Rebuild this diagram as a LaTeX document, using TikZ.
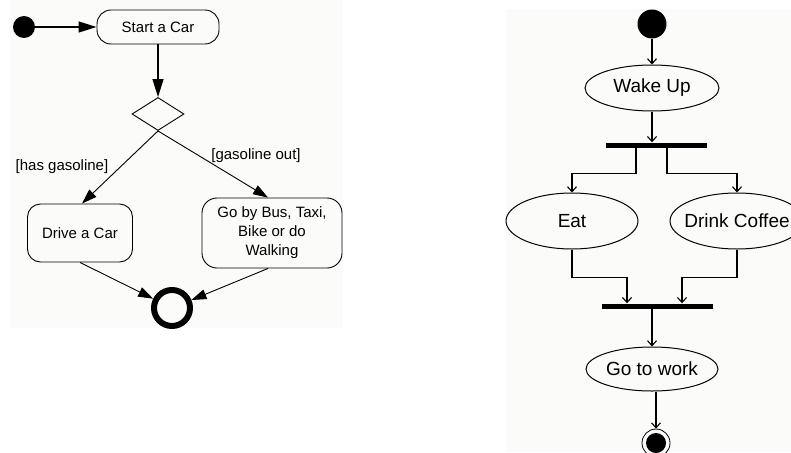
\documentclass[tikz,border=0pt]{standalone}
\usepackage{fontspec}
\setmainfont{Liberation Sans}
\usetikzlibrary{shapes.geometric,arrows.meta}
\definecolor{bgc}{HTML}{FBFCF9}
\begin{document}
\begin{tikzpicture}[x=1pt,y=-1pt,
  lt/.style={font=\fontsize{15}{19}\selectfont},
  actbox/.style={draw, rounded corners=#1, inner sep=0pt, align=center, lt, line width=0.9pt},
  ell/.style={ellipse, draw, inner sep=0pt, inner xsep=-14pt, line width=1pt, font=\fontsize{19}{22}\selectfont},
  bar/.style={fill, inner sep=0pt, minimum height=5},
  tri/.style={-{Triangle[length=18pt,width=11pt]}, line width=1.3pt},
  tritwo/.style={-{Triangle[length=15pt,width=10pt]}, line width=0.9pt},
  barb/.style={-{Straight Barb[length=5pt,width=9pt]}, line width=1.1pt}]
\clip (0,0) rectangle (791,452);
\fill[bgc] (10,0) rectangle (343,328);
\fill[bgc] (506,9) rectangle (791,452);
% left diagram
\node[circle, fill, inner sep=0pt, minimum size=22] (li) at (24,27) {};
\node[actbox=14, minimum width=122, minimum height=34] (start) at (158,27) {Start a Car};
\node[diamond, draw, inner sep=0pt, minimum width=52, minimum height=33, line width=0.9pt] (dec) at (158,114) {};
\node[actbox=13, minimum width=105, minimum height=58] (drive) at (80,233) {Drive a Car};
\node[actbox=15, minimum width=140, minimum height=70] (bus) at (272,233) {Go by Bus, Taxi,\\Bike or do\\Walking};
\node[circle, draw, line width=6pt, minimum size=36, inner sep=0pt] (lf) at (172,308) {};
\node[lt] (l1) at (62,167) {[has gasoline]};
\node[lt] (l2) at (256,156) {[gasoline out]};
\draw[tri] (li) -- (start);
\draw[tri] (start) -- (dec);
\draw[tritwo] (dec.south) -- ([xshift=2pt]drive.north);
\draw[tritwo] (dec.south) -- ([xshift=-4pt]bus.north);
\draw[tritwo] (drive.south) -- (lf);
\draw[tritwo] ([xshift=-4pt]bus.south) -- (lf);
% right diagram
\node[circle, fill, minimum size=29, inner sep=0pt] (ri) at (652,24) {};
\node[ell, minimum width=134, minimum height=46] (wake) at (652,88) {Wake Up};
\node[bar, minimum width=101] (fork) at (656,145) {};
\node[ell, minimum width=132, minimum height=56] (eat) at (572,221) {Eat};
\node[ell, minimum width=134, minimum height=56] (drink) at (737,221) {Drink Coffee};
\node[bar, minimum width=111] (join) at (657,306) {};
\node[ell, minimum width=132, minimum height=44] (work) at (652,369) {Go to work};
\node[circle, draw, minimum size=28, inner sep=0pt, line width=0.8pt] (rf) at (656,443) {};
\fill (rf.center) circle (10pt);
\draw[barb] (ri) -- (wake);
\draw[barb] (wake) -- (wake.south |- fork.north);
\draw[barb] ([xshift=-20pt]fork.south) -- ++(0,26) -| (eat.north);
\draw[barb] ([xshift=11pt]fork.south) -- ++(0,26) -| (drink.north);
\draw[barb] (eat.south) -- ++(0,28) -| ([xshift=-30pt]join.north);
\draw[barb] (drink.south) -- ++(0,28) -| ([xshift=25pt]join.north);
\draw[barb] (work.north |- join.south) -- (work.north);
\draw[barb] (work.south -| rf.north) -- (rf.north);
\end{tikzpicture}
\end{document}
